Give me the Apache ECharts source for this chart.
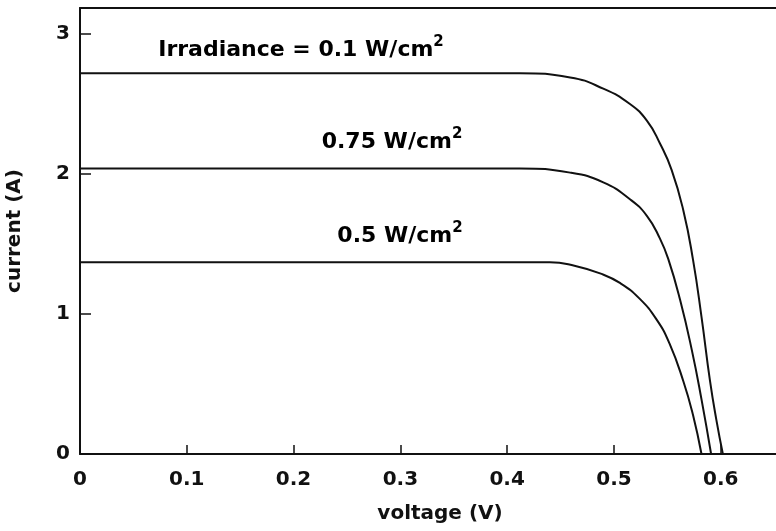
<!DOCTYPE html>
<html>
<head>
<meta charset="utf-8">
<script src="https://cdn.jsdelivr.net/npm/echarts@6/dist/echarts.min.js"></script>
<style>html,body{margin:0;padding:0;background:#fff}#c{width:776px;height:531px}</style>
</head>
<body>
<div id="c"></div>
<script>
// I-V curves: [voltage (V), current (A)]
const curve01 = [[0,2.72],[0.2,2.72],[0.412,2.72],[0.459,2.69],[0.490,2.61],[0.515,2.50],[0.531,2.38],[0.543,2.22],[0.554,2.03],[0.565,1.74],[0.574,1.39],[0.582,0.98],[0.590,0.52],[0.596,0.24],[0.602,0]];
const curve075 = [[0,2.04],[0.2,2.04],[0.412,2.04],[0.459,2.01],[0.490,1.94],[0.515,1.82],[0.531,1.70],[0.543,1.54],[0.551,1.39],[0.562,1.10],[0.573,0.74],[0.582,0.39],[0.591,0]];
const curve05 = [[0,1.37],[0.2,1.37],[0.440,1.37],[0.463,1.345],[0.487,1.29],[0.506,1.22],[0.524,1.11],[0.540,0.96],[0.552,0.79],[0.565,0.52],[0.574,0.28],[0.582,0]];
const xTicks = [0,0.1,0.2,0.3,0.4,0.5,0.6];
const yTicks = [0,1,2,3];
const xName = 'voltage (V)';
const yName = 'current (A)';
const labels = ['Irradiance = 0.1 W/cm', '0.75 W/cm', '0.5 W/cm'];

const FONT = 'DejaVu Sans';
const chart = echarts.init(document.getElementById('c'), null, {renderer:'canvas'});
const lineStyle = {color:'#111', width:2};
function mkSeries(d){return {type:'line', data:d, showSymbol:false, smooth:0.5, lineStyle:lineStyle, silent:true};}
function rich(t){
  return {type:'text', style:{text:'{b|'+t+'}{s|2}', textAlign:'center', textVerticalAlign:'middle',
    rich:{b:{fontFamily:FONT,fontWeight:'bold',fontSize:22,color:'#111',lineHeight:26,verticalAlign:'bottom'},
          s:{fontFamily:FONT,fontWeight:'bold',fontSize:15,color:'#111',lineHeight:26,verticalAlign:'top',padding:[0,0,7,0]}}}};
}
const g = [rich(labels[0]), rich(labels[1]), rich(labels[2])];
g[0].x = 301; g[0].y = 48;
g[1].x = 392; g[1].y = 140;
g[2].x = 400; g[2].y = 234;

chart.setOption({
  backgroundColor:'#fff',
  animation:false,
  grid:{left:80, right:-12, top:8, bottom:77, containLabel:false, outerBoundsMode:'none'},
  xAxis:[{
    type:'value', min:0, max:0.663, interval:0.1,
    name:xName, nameLocation:'middle', nameGap:50,
    nameTextStyle:{fontFamily:FONT, fontWeight:'bold', fontSize:20, color:'#111', padding:[0,0,0,12]},
    axisLine:{show:true, lineStyle:{color:'#111', width:2}},
    axisTick:{show:true, inside:true, length:9, lineStyle:{color:'#111', width:1.5}},
    axisLabel:{show:true, margin:16, fontFamily:FONT, fontWeight:'bold', fontSize:20, color:'#111', showMaxLabel:false,
      formatter:function(v){ return xTicks.some(t=>Math.abs(t-v)<1e-6) ? String(+v.toFixed(1)) : ''; }},
    splitLine:{show:false}
  },{
    type:'value', position:'top', min:0, max:0.663,
    axisLine:{show:true, onZero:false, lineStyle:{color:'#111', width:2}},
    axisTick:{show:false}, axisLabel:{show:false}, splitLine:{show:false}
  }],
  yAxis:{
    type:'value', min:0, max:3.186, interval:1,
    name:yName, nameLocation:'middle', nameGap:55,
    nameTextStyle:{fontFamily:FONT, fontWeight:'bold', fontSize:20, color:'#111'},
    axisLine:{show:true, lineStyle:{color:'#111', width:2}},
    axisTick:{show:true, inside:true, length:11, lineStyle:{color:'#111', width:1.5}},
    axisLabel:{show:true, margin:10, fontFamily:FONT, fontWeight:'bold', fontSize:20, color:'#111', showMaxLabel:false,
      formatter:function(v){ return yTicks.indexOf(Math.round(v))>=0 && Math.abs(v-Math.round(v))<1e-6 ? String(Math.round(v)) : ''; }},
    splitLine:{show:false}
  },
  series:[mkSeries(curve01), mkSeries(curve075), mkSeries(curve05)],
  graphic:g
});
</script>
</body>
</html>
